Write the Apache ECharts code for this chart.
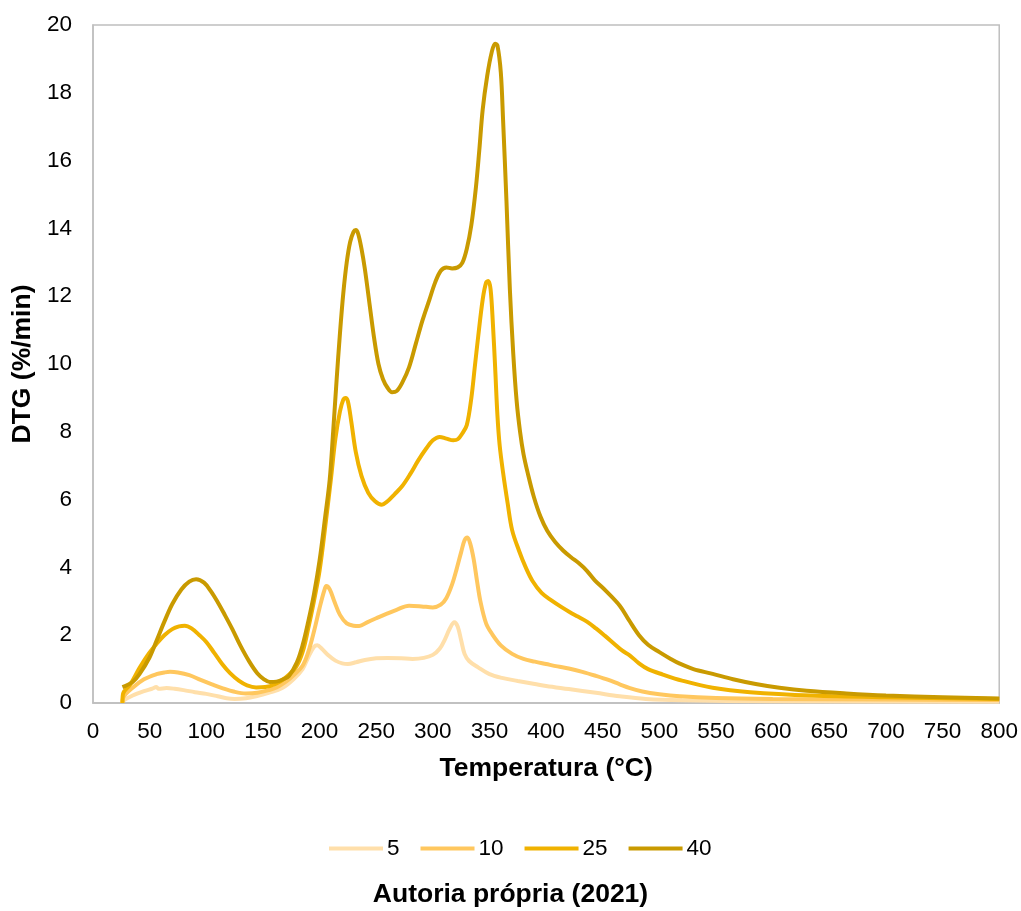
<!DOCTYPE html>
<html>
<head>
<meta charset="utf-8">
<script src="https://cdn.jsdelivr.net/npm/echarts@6/dist/echarts.min.js"></script>
<style>html,body{margin:0;padding:0;background:#fff}#c{width:1021px;height:911px}</style>
</head>
<body>
<div id="c"></div>
<script>
const seriesNames = ['5', '10', '25', '40'];
const xTicks = [0, 800, 50];
const yTicks = [0, 20, 2];

const s5 = [[26,0],[26.5,0.06],[35,0.22],[45,0.35],[52,0.42],[56,0.47],[58,0.42],[65,0.44],[72,0.42],[80,0.38],[90,0.32],[100,0.27],[110,0.2],[118,0.14],[125,0.12],[135,0.14],[144,0.2],[155,0.3],[167,0.44],[177,0.7],[185,1.0],[190,1.35],[195,1.65],[198,1.7],[202,1.6],[208,1.4],[214,1.25],[220,1.17],[225,1.15],[232,1.2],[240,1.27],[250,1.32],[260,1.33],[272,1.32],[282,1.3],[292,1.33],[300,1.42],[306,1.6],[311,1.9],[315,2.2],[319,2.38],[322,2.25],[325,1.85],[328,1.45],[332,1.24],[340,1.05],[350,0.85],[361,0.74],[375,0.65],[390,0.56],[400,0.5],[420,0.41],[444,0.3],[465,0.2],[488,0.12],[520,0.08],[600,0.05],[800,0.04]];

const s10 = [[26,0],[26.5,0.15],[35,0.45],[45,0.7],[56,0.85],[63,0.9],[68,0.92],[75,0.9],[85,0.82],[95,0.68],[105,0.55],[114,0.44],[125,0.33],[135,0.28],[145,0.3],[155,0.38],[162,0.46],[170,0.62],[178,0.85],[185,1.1],[190,1.5],[195,2.1],[200,2.8],[204,3.3],[206,3.45],[209,3.35],[213,3.0],[218,2.6],[224,2.35],[230,2.28],[235,2.27],[242,2.38],[250,2.5],[259,2.63],[268,2.75],[279,2.87],[290,2.85],[300,2.82],[307,2.9],[312,3.1],[317,3.5],[321,3.95],[325,4.45],[328,4.8],[330.5,4.88],[333,4.7],[336,4.25],[339,3.6],[342,3.0],[347,2.35],[352,2.05],[360,1.7],[370,1.45],[380,1.3],[390,1.22],[400,1.15],[410,1.08],[420,1.02],[432,0.92],[444,0.8],[455,0.68],[465,0.55],[474,0.44],[485,0.34],[500,0.26],[518,0.2],[550,0.15],[600,0.12],[700,0.1],[800,0.09]];

const s25 = [[26,0],[26.5,0.27],[33,0.55],[41,1.03],[48,1.4],[56,1.74],[63,2.0],[70,2.18],[76,2.26],[81,2.28],[87,2.2],[94,2.0],[100,1.8],[107,1.48],[114,1.15],[121,0.88],[129,0.65],[136,0.52],[144,0.46],[152,0.47],[161,0.56],[170,0.75],[179,1.05],[185,1.5],[190,2.2],[195,3.0],[200,3.9],[205,5.2],[210,6.6],[214,7.8],[218,8.6],[221,8.95],[223,9.0],[225,8.9],[228,8.3],[232,7.4],[237,6.7],[243,6.2],[249,5.95],[255,5.85],[260,5.95],[266,6.15],[273,6.4],[280,6.75],[287,7.15],[294,7.5],[300,7.75],[306,7.85],[312,7.8],[318,7.75],[322,7.78],[326,7.95],[330,8.2],[334,9.0],[337,9.9],[340,10.8],[344,11.9],[347,12.4],[349,12.45],[351,12.2],[353,11.2],[355,9.9],[357,8.5],[359,7.6],[362,6.8],[366,5.9],[370,5.1],[376,4.5],[382,4.0],[388,3.6],[396,3.25],[405,3.02],[414,2.82],[421,2.68],[428,2.55],[436,2.4],[444,2.2],[452,1.98],[460,1.75],[467,1.55],[474,1.4],[482,1.17],[490,1.0],[503,0.84],[520,0.66],[547,0.45],[580,0.32],[635,0.22],[700,0.17],[800,0.12]];

const s40 = [[26,0.47],[35,0.62],[41,0.85],[50,1.35],[56,1.83],[63,2.4],[70,2.92],[78,3.35],[85,3.58],[91,3.65],[98,3.55],[104,3.3],[110,2.98],[116,2.62],[123,2.18],[130,1.7],[138,1.22],[145,0.88],[151,0.7],[156,0.62],[162,0.63],[168,0.7],[173,0.8],[180,1.2],[185,1.7],[190,2.4],[195,3.2],[200,4.2],[205,5.5],[209,6.6],[212,8],[215,9.5],[218,10.9],[221,12.1],[224,13.0],[227,13.6],[230,13.9],[232,13.95],[234,13.85],[237,13.4],[240,12.8],[244,11.8],[248,10.8],[252,10.0],[256,9.55],[260,9.3],[264,9.17],[268,9.2],[273,9.45],[279,9.9],[285,10.6],[291,11.3],[297,11.9],[302,12.4],[307,12.75],[312,12.85],[317,12.82],[322,12.85],[326,12.98],[330,13.4],[334,14.1],[338,15.2],[341,16.3],[344,17.5],[348,18.5],[352,19.2],[355,19.45],[357,19.4],[360,18.6],[362,17.2],[365,14.8],[368,12.2],[371,10.3],[374,8.9],[377,8.0],[380,7.35],[384,6.75],[389,6.1],[395,5.5],[401,5.08],[408,4.75],[415,4.5],[422,4.3],[429,4.12],[436,3.9],[443,3.62],[453,3.3],[465,2.87],[473,2.45],[482,2.0],[490,1.72],[500,1.5],[510,1.3],[518,1.16],[530,1.0],[547,0.86],[565,0.7],[585,0.56],[606,0.45],[630,0.36],[665,0.28],[700,0.22],[750,0.17],[800,0.13]];

const seriesData = [s5, s10, s25, s40];
const colors = ['#FFDFAA', '#FFC75E', '#F0B200', '#C99A00'];

const chart = echarts.init(document.getElementById('c'), null, {renderer: 'canvas'});
const font = 'Liberation Sans, Arial, sans-serif';
chart.setOption({
  animation: false,
  color: colors,
  title: {
    text: 'Autoria própria (2021)',
    left: 'center',
    top: 876,
    textStyle: {fontFamily: font, fontSize: 26.5, fontWeight: 'bold', color: '#000'}
  },
  legend: {
    data: seriesNames,
    left: 324,
    top: 832,
    itemWidth: 54,
    itemHeight: 4,
    itemGap: 21,
    icon: 'rect',
    textStyle: {fontFamily: font, fontSize: 22.5, color: '#000', padding: [0, 0, 0, -1]}
  },
  grid: {
    left: 93, right: 21, top: 25, bottom: 208,
    show: true, borderColor: '#bfbfbf', borderWidth: 1.5, containLabel: false
  },
  xAxis: {
    type: 'value',
    min: xTicks[0], max: xTicks[1], interval: xTicks[2],
    name: 'Temperatura (°C)',
    nameLocation: 'middle',
    nameGap: 52,
    nameTextStyle: {fontFamily: font, fontSize: 26.5, fontWeight: 'bold', color: '#000'},
    axisLine: {show: true, lineStyle: {color: '#bfbfbf', width: 1.5}},
    axisTick: {show: false},
    splitLine: {show: false},
    axisLabel: {fontFamily: font, fontSize: 22.5, color: '#000', margin: 17}
  },
  yAxis: {
    type: 'value',
    min: yTicks[0], max: yTicks[1], interval: yTicks[2],
    name: 'DTG (%/min)',
    nameLocation: 'middle',
    nameGap: 55,
    nameRotate: 90,
    nameTextStyle: {fontFamily: font, fontSize: 26.5, fontWeight: 'bold', color: '#000'},
    axisLine: {show: true, lineStyle: {color: '#bfbfbf', width: 1.5}},
    axisTick: {show: false},
    splitLine: {show: false},
    axisLabel: {fontFamily: font, fontSize: 22.5, color: '#000', margin: 21}
  },
  series: seriesNames.map((n, i) => ({
    name: n,
    type: 'line',
    data: seriesData[i],
    smooth: 0.35,
    symbol: 'none',
    showSymbol: false,
    lineStyle: {width: 4, color: colors[i]},
    itemStyle: {color: colors[i]},
    z: 2 + i
  }))
});
</script>
</body>
</html>
